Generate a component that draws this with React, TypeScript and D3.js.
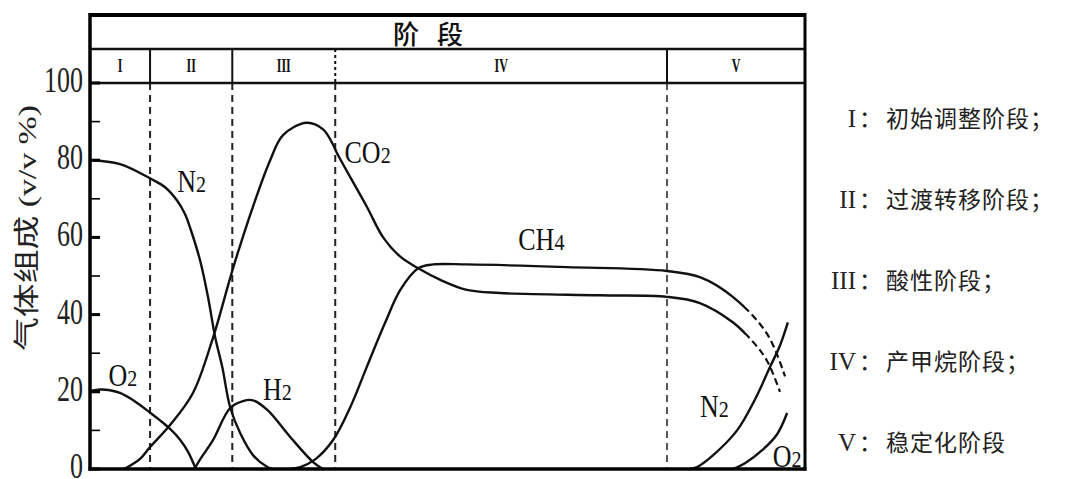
import * as d3 from "d3";

const W = 1069;
const H = 479;

// x is an arbitrary time scale 0..100 (no ticks on the original), y is gas composition in v/v %
const stageBounds = [8.4, 19.9, 34.3, 80.7];
const stageLabels = ["I", "II", "III", "IV", "V"];
const yTicks = [0, 20, 40, 60, 80, 100];
const yMinorTicks = [10, 30, 50, 70, 90];

type Pt = [number, number];

const o2Early: Pt[] = [
  [0, 20.2], [1.4, 20.6], [2.8, 20.4], [4.2, 19.7], [6.3, 17.5], [8.4, 14.6],
  [9.8, 12.6], [11.2, 10.4], [12.6, 7.6], [13.7, 4.5], [14.8, 0],
];
const n2Early: Pt[] = [
  [0, 80], [4.2, 79], [8.7, 75], [10.5, 73], [12.2, 69.5], [13.3, 66], [14.0, 62.5],
  [15.4, 54], [16.5, 44.6], [17.5, 34.2], [18.5, 26.4], [19.6, 16], [21.0, 9.3],
  [22.8, 3.6], [24.8, 0.5], [25.5, 0],
];
const h2: Pt[] = [
  [14.6, 0], [15.4, 2.5], [17.2, 7.5], [19.6, 15.8], [21.4, 17.6], [22.8, 17.8],
  [24.8, 15.3], [28.0, 8.3], [31.2, 1.8], [32.6, 0],
];
const co2: Pt[] = [
  [4.8, 0], [7.0, 2.6], [8.4, 5.7], [11.2, 11.4], [14.4, 19.7], [17.2, 34], [20.0, 52],
  [22.8, 68], [25.2, 80], [27.0, 86.5], [30.3, 89.7], [32.6, 88], [34.0, 84], [34.5, 82],
  [38.7, 68], [41.0, 60], [43.4, 55], [45.9, 52], [49.0, 49], [52.7, 46.4], [57.3, 45.6],
  [71.3, 45], [80.7, 44.6], [85.3, 43], [89.9, 38], [92.7, 33], [94.7, 28], [96.5, 20],
];
const ch4: Pt[] = [
  [28.0, 0], [29.4, 0.5], [31.5, 2.5], [34.0, 7.5], [36.4, 16], [38.7, 26.4], [41.3, 38],
  [43.4, 46.4], [45.9, 52], [48.0, 53], [52.7, 53], [66.7, 52.3], [80.7, 51.3],
  [85.3, 49.7], [89.9, 44.6], [94.7, 35], [97.2, 24],
];
const n2Late: Pt[] = [[83.9, 0], [84.9, 0.5], [87.4, 4], [90.5, 10], [93.0, 18], [95.1, 26.4], [96.5, 32], [97.6, 38]];
const o2Late: Pt[] = [[89.9, 0], [91.6, 1.5], [94.1, 5], [96.1, 9], [97.5, 14.5]];

// where CO2 / CH4 turn into dashed projections
const dashFrom = 91.6;

const curveLabels = [
  { base: "O", sub: "2", t: 2.6, v: 21.5 },
  { base: "N", sub: "2", t: 12.2, v: 71.8 },
  { base: "H", sub: "2", t: 24.2, v: 17.9 },
  { base: "CO", sub: "2", t: 35.6, v: 79.3 },
  { base: "CH", sub: "4", t: 59.9, v: 56.7 },
  { base: "N", sub: "2", t: 85.3, v: 13.5 },
  { base: "O", sub: "2", t: 95.5, v: 0.5 },
];

const legendNumerals = ["I", "II", "III", "IV", "V"];
const legendTexts = ["初始调整阶段；", "过渡转移阶段；", "酸性阶段；", "产甲烷阶段；", "稳定化阶段"];

const serif = "'Liberation Serif', 'DejaVu Serif', serif";
const cjk = "'Noto Sans CJK SC', sans-serif";

export default function App() {
  const left = 90;
  const right = 805;
  const frameTop = 15;
  const headerBottom = 49;
  const plotTop = 83;
  const plotBottom = 469;

  const x = d3.scaleLinear().domain([0, 100]).range([left, right]);
  const y = d3.scaleLinear().domain([0, 100]).range([plotBottom, plotTop]);

  const path = d3
    .line<Pt>()
    .x((d) => x(d[0]))
    .y((d) => y(d[1]))
    .curve(d3.curveCatmullRom.alpha(0.5));

  const solidCurves = [o2Early, n2Early, h2, n2Late, o2Late];
  const splitCurves = [co2, ch4];
  const edges = [0, ...stageBounds, 100];
  const xDash = x(dashFrom);

  return (
    <div style={{ position: "absolute", left: 0, top: 0 }}>
      <svg width={W} height={H} style={{ display: "block", background: "#fff" }}>
        <defs>
          <clipPath id="plotArea">
            <rect x={left} y={plotTop} width={right - left} height={plotBottom - plotTop} />
          </clipPath>
          <clipPath id="solidPart">
            <rect x={left} y={plotTop} width={xDash - left} height={plotBottom - plotTop} />
          </clipPath>
          <clipPath id="dashPart">
            <rect x={xDash} y={plotTop} width={right - xDash} height={plotBottom - plotTop} />
          </clipPath>
        </defs>

        {/* stage dividers */}
        {stageBounds.map((b, i) => (
          <g key={`sb${i}`}>
            <line
              x1={x(b)}
              x2={x(b)}
              y1={headerBottom}
              y2={plotTop}
              stroke="#111"
              strokeWidth={2}
              strokeDasharray={i === 2 ? "3,3" : undefined}
            />
            <line
              x1={x(b)}
              x2={x(b)}
              y1={plotTop}
              y2={plotBottom}
              stroke={i === 3 ? "#555" : "#222"}
              strokeWidth={2}
              strokeDasharray="7,5"
            />
          </g>
        ))}

        {/* stage labels */}
        {stageLabels.map((s, i) => (
          <text
            key={s}
            transform={`translate(${x((edges[i] + edges[i + 1]) / 2)},${72}) scale(1,1.5)`}
            textAnchor="middle"
            fontFamily={serif}
            fontWeight="bold"
            fontSize={12}
            fill="#111"
          >
            {s}
          </text>
        ))}

        {/* header */}
        <text x={393} y={44} fontFamily={cjk} fontSize={26} fontWeight={500} letterSpacing={18} fill="#111">
          阶段
        </text>

        {/* curves */}
        <g clipPath="url(#plotArea)">
          {solidCurves.map((c, i) => (
            <path key={`c${i}`} d={path(c) ?? ""} fill="none" stroke="#111" strokeWidth={2.4} />
          ))}
        </g>
        {splitCurves.map((c, i) => (
          <g key={`s${i}`}>
            <path d={path(c) ?? ""} fill="none" stroke="#111" strokeWidth={2.4} clipPath="url(#solidPart)" />
            <path
              d={path(c) ?? ""}
              fill="none"
              stroke="#111"
              strokeWidth={2.2}
              strokeDasharray="7,4"
              clipPath="url(#dashPart)"
            />
          </g>
        ))}

        {/* curve labels */}
        {curveLabels.map((l, i) => (
          <text
            key={`l${i}`}
            transform={`translate(${x(l.t)},${y(l.v)}) scale(1,1.2)`}
            fontFamily={serif}
            fontSize={26}
            fill="#111"
          >
            {l.base}
            <tspan fontSize={20}>{l.sub}</tspan>
          </text>
        ))}

        {/* frame */}
        <line x1={left} x2={right} y1={frameTop} y2={frameTop} stroke="#000" strokeWidth={4} />
        <line x1={left} x2={right} y1={headerBottom} y2={headerBottom} stroke="#111" strokeWidth={2.5} />
        <line x1={left} x2={right} y1={plotTop} y2={plotTop} stroke="#111" strokeWidth={2.5} />
        <line x1={right} x2={right} y1={frameTop - 2} y2={plotBottom + 1.5} stroke="#000" strokeWidth={3} />
        <line x1={left} x2={left} y1={frameTop - 2} y2={plotBottom + 1.5} stroke="#000" strokeWidth={3.5} />
        <line x1={left - 1.5} x2={right + 1.5} y1={plotBottom} y2={plotBottom} stroke="#000" strokeWidth={3.5} />

        {/* y ticks */}
        {yTicks.map((t) => (
          <g key={`t${t}`}>
            <line x1={left} x2={left + 10} y1={y(t)} y2={y(t)} stroke="#000" strokeWidth={3} />
            <text
              transform={`translate(${left - 7},${y(t) + 9}) scale(1,1.4)`}
              textAnchor="end"
              fontFamily={serif}
              fontSize={26}
              fill="#222"
            >
              {t}
            </text>
          </g>
        ))}
        {yMinorTicks.map((t) => (
          <line key={`m${t}`} x1={left} x2={left + 10} y1={y(t)} y2={y(t)} stroke="#000" strokeWidth={1.6} />
        ))}

        {/* y axis title */}
        <text
          transform={`translate(36,228) rotate(-90) scale(1.3,1)`}
          textAnchor="middle"
          fontFamily={`${serif.split(",")[0]}, ${cjk}`}
          fontSize={26}
          fill="#222"
        >
          气体组成 (v/v %)
        </text>

        {/* legend */}
        {legendTexts.map((t, i) => {
          const ly = 127 + i * 81;
          return (
            <g key={`lg${i}`}>
              <text x={856} y={ly} textAnchor="end" fontFamily={serif} fontSize={25} fill="#222">
                {legendNumerals[i]}
              </text>
              <text x={859} y={ly} fontFamily={cjk} fontSize={23} fill="#222">
                ：
              </text>
              <text x={886} y={ly} fontFamily={cjk} fontSize={23} fill="#222" letterSpacing={1}>
                {t}
              </text>
            </g>
          );
        })}
      </svg>
    </div>
  );
}
